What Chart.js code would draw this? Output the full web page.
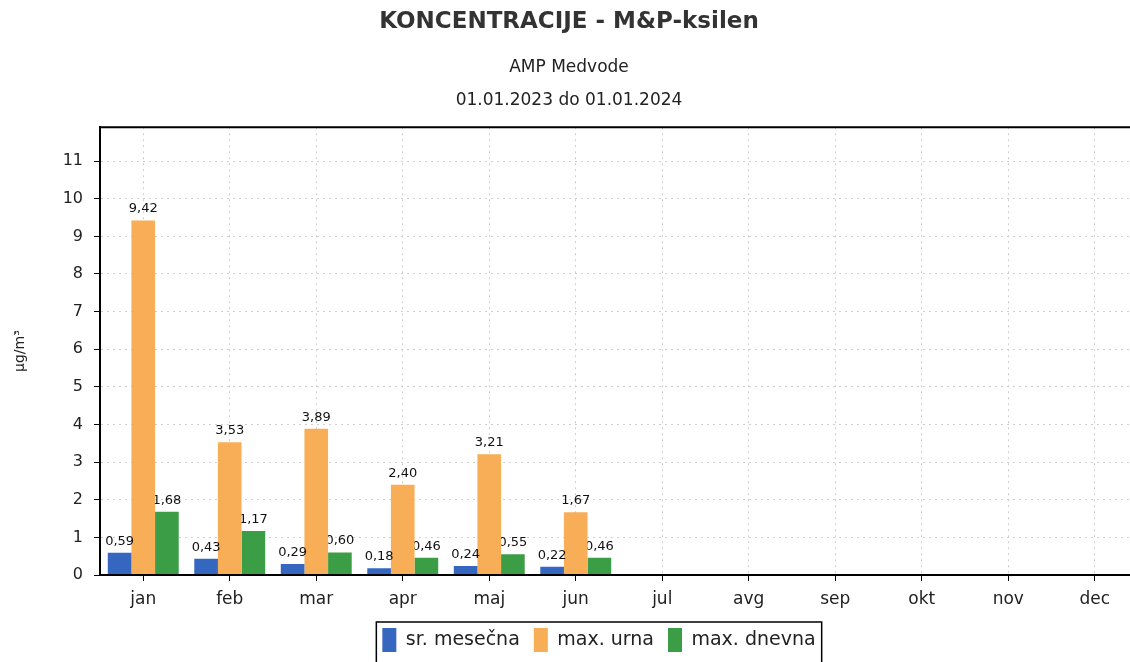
<!DOCTYPE html>
<html>
<head>
<meta charset="utf-8">
<script src="https://cdn.jsdelivr.net/npm/chart.js@4"></script>
<style>
html,body{margin:0;padding:0;background:#fff;overflow:hidden;}
#wrap{width:1140px;height:662px;position:relative;}
</style>
</head>
<body>
<div id="wrap"><canvas id="c"></canvas></div>
<script>
const months = ['jan','feb','mar','apr','maj','jun','jul','avg','sep','okt','nov','dec'];
const srMesecna = [0.59,0.43,0.29,0.18,0.24,0.22,null,null,null,null,null,null];
const maxUrna   = [9.42,3.53,3.89,2.40,3.21,1.67,null,null,null,null,null,null];
const maxDnevna = [1.68,1.17,0.60,0.46,0.55,0.46,null,null,null,null,null,null];
const seriesNames = ['sr. mesečna','max. urna','max. dnevna'];
const titleText = 'KONCENTRACIJE - M&P-ksilen';
const subtitleLines = ['AMP Medvode','01.01.2023 do 01.01.2024'];
const yTitle = 'µg/m³';

const FONT = "'DejaVu Sans', Verdana, sans-serif";
const LEGEND_SHIFT = 30;

const labelPlugin = {
  id: 'valLabels',
  afterDatasetDraw(chart, args) {
    const ctx = chart.ctx;
    const meta = args.meta;
    const ds = chart.data.datasets[args.index];
    ctx.save();
    ctx.font = "13px " + FONT;
    ctx.fillStyle = '#111';
    ctx.textAlign = 'center';
    ctx.textBaseline = 'bottom';
    meta.data.forEach((bar, i) => {
      const v = ds.data[i];
      if (v === null || v === undefined) return;
      ctx.fillText(v.toFixed(2).replace('.', ','), bar.x, bar.y - 5);
    });
    ctx.restore();
  }
};

const shiftLegend = {
  id: 'shiftLegend',
  afterLayout(chart) {
    const lg = chart.legend;
    if (!lg) return;
    lg.left += LEGEND_SHIFT;
    lg.right += LEGEND_SHIFT;
  }
};

const framePlugin = {
  id: 'frame',
  afterDraw(chart) {
    const ctx = chart.ctx;
    const a = chart.chartArea;
    ctx.save();
    ctx.strokeStyle = '#000';
    ctx.setLineDash([]);
    ctx.lineWidth = 2;
    ctx.beginPath();
    ctx.moveTo(a.left, a.top);
    ctx.lineTo(a.right + 5, a.top);
    ctx.moveTo(a.left, a.top);
    ctx.lineTo(a.left, a.bottom);
    ctx.lineTo(a.right + 5, a.bottom);
    ctx.stroke();
    const lg = chart.legend;
    if (lg && lg.legendHitBoxes && lg.legendHitBoxes.length) {
      const hb = lg.legendHitBoxes;
      let l = Infinity, r = -Infinity, t = Infinity;
      hb.forEach(h => { l = Math.min(l, h.left); r = Math.max(r, h.left + h.width); t = Math.min(t, h.top); });
      ctx.lineWidth = 1.5;
      ctx.strokeRect(l - 6, t - 6, (r - l) + 12, 60);
    }
    ctx.restore();
  }
};

new Chart(document.getElementById('c'), {
  type: 'bar',
  data: {
    labels: months,
    datasets: [
      { label: seriesNames[0], data: srMesecna, backgroundColor: '#3566c0' },
      { label: seriesNames[1], data: maxUrna,   backgroundColor: '#f7ae57' },
      { label: seriesNames[2], data: maxDnevna, backgroundColor: '#3b9e47' }
    ]
  },
  options: {
    responsive: true,
    maintainAspectRatio: false,
    animation: false,
    layout: { padding: { left: 0, right: 2, top: 0, bottom: 0 } },
    datasets: { bar: { categoryPercentage: 0.82, barPercentage: 1.0 } },
    plugins: {
      title: {
        display: true, text: titleText, color: '#333',
        font: { family: FONT, size: 23, weight: 'bold' },
        padding: { top: 8, bottom: 15 }
      },
      subtitle: {
        display: true, text: subtitleLines, color: '#222',
        font: { family: FONT, size: 17, lineHeight: 1.96 },
        padding: { top: 0, bottom: 10 }
      },
      legend: {
        display: true, position: 'bottom',
        labels: {
          color: '#222', font: { family: FONT, size: 19 },
          boxWidth: 14, boxHeight: 24, padding: 14
        }
      },
      tooltip: { enabled: false }
    },
    scales: {
      x: {
        offset: true,
        grid: {
          offset: false, color: '#cfcfcf',
          tickColor: '#000', tickBorderDash: [], tickLength: 6, drawTicks: true
        },
        border: { display: true, color: '#000', width: 2, dash: [2, 4] },
        ticks: { color: '#222', font: { family: FONT, size: 17 }, padding: 8 },
        afterFit(s) { s.height = 39; }
      },
      y: {
        min: 0, max: 11.9,
        grid: {
          color: '#cfcfcf',
          tickColor: '#000', tickBorderDash: [], tickLength: 6, drawTicks: true
        },
        border: { display: true, color: '#000', width: 2, dash: [2, 4] },
        ticks: { stepSize: 1, color: '#222', font: { family: FONT, size: 16 }, padding: 11 },
        afterBuildTicks(s) { s.ticks = s.ticks.filter(t => Number.isInteger(t.value)); },
        title: { display: true, text: yTitle, color: '#222', font: { family: FONT, size: 14 }, padding: { top: 12, bottom: 0 } },
        afterFit(s) { s.width = 100; }
      }
    }
  },
  plugins: [shiftLegend, labelPlugin, framePlugin]
});
</script>
</body>
</html>
